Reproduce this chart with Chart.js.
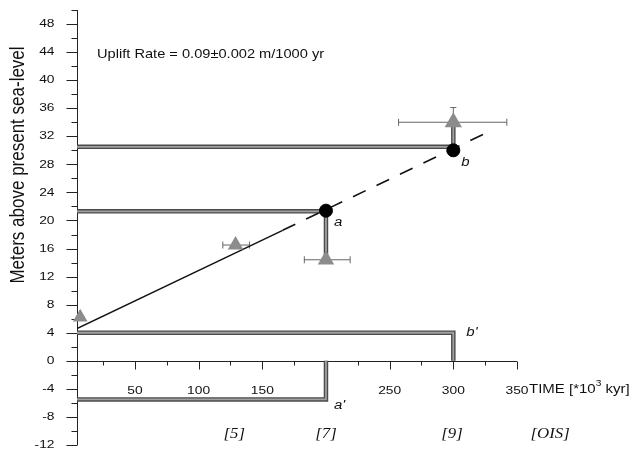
<!DOCTYPE html>
<html>
<head>
<meta charset="utf-8">
<script src="https://cdn.jsdelivr.net/npm/chart.js@4.4.1/dist/chart.umd.min.js"></script>
<style>
  body { margin: 0; background: #fff; }
  #c { display: block; }
</style>
</head>
<body>
<canvas id="c" width="636" height="455"></canvas>
<script>
// terraces a and b (black dots) and their shoreline / paleo sea-level steps
const terraceNames = ['a', 'b'];
const terraceAge = [200, 300];
const terraceElev = [21.4, 30];
const shorelineElev = [21.3, 30.5];
const shorelineTop = [14.4, 34];      // where the vertical step ends
const paleoNames = ["a'", "b'"];
const paleoElev = [-5.5, 4.0];

// dated samples (grey triangles) with error bars
const sampleAge = [7, 129, 200, 300];
const sampleElev = [6.2, 16.5, 14.4, 34];
const sampleAgeLo = [null, 119, 183, 257];
const sampleAgeHi = [null, 140, 219, 342];
const sampleElevHi = [null, null, null, 36.1];

// uplift regression line (solid part then dashed part)
const fitAge = [4.5, 166, 325];
const fitElev = [4.6, 18.6, 32.4];

// tick labels
const xTickLabels = [50, 100, 150, 250, 300, 350];
const yTickLabels = [-12, -8, -4, 0, 4, 8, 12, 16, 20, 24, 28, 32, 36, 40, 44, 48];
const stageLabels = ['[5]', '[7]', '[9]', '[OIS]'];
const stageAge = [128, 200, 299, 376];

const X_MIN = 4.5;
const FONT = '"Liberation Sans", Arial, sans-serif';
const SX = 1.2; // the scan is a bit wider than tall

const datasets = [];

// grey double-edged bands
function band(points) {
  datasets.push({ data: points, showLine: true, borderColor: '#4a4a4a', borderWidth: 4.5, pointRadius: 0, order: 10 });
  datasets.push({ data: points, showLine: true, borderColor: '#a0a0a0', borderWidth: 1.8, pointRadius: 0, order: 9 });
}
for (let i = 0; i < terraceAge.length; i++) {
  band([{ x: X_MIN, y: shorelineElev[i] }, { x: terraceAge[i], y: shorelineElev[i] }, { x: terraceAge[i], y: shorelineTop[i] }]);
  band([{ x: X_MIN, y: paleoElev[i] }, { x: terraceAge[i], y: paleoElev[i] }, { x: terraceAge[i], y: 0 }]);
}

// error bars
for (let i = 0; i < sampleAge.length; i++) {
  if (sampleAgeLo[i] !== null) {
    datasets.push({
      data: [{ x: sampleAgeLo[i], y: sampleElev[i] }, { x: sampleAgeHi[i], y: sampleElev[i] }],
      showLine: true, borderColor: '#666', borderWidth: 1,
      pointStyle: 'line', rotation: 90, pointRadius: 3.5, pointBorderWidth: 1, pointBorderColor: '#666', order: 6
    });
  }
  if (sampleElevHi[i] !== null) {
    datasets.push({
      data: [{ x: sampleAge[i], y: sampleElev[i] }, { x: sampleAge[i], y: sampleElevHi[i] }],
      showLine: true, borderColor: '#666', borderWidth: 1,
      pointStyle: 'line', pointRadius: [0, 3], pointBorderWidth: 1, pointBorderColor: '#666', order: 6
    });
  }
}

// regression line
datasets.push({
  data: [{ x: fitAge[0], y: fitElev[0] }, { x: fitAge[1], y: fitElev[1] }],
  showLine: true, borderColor: '#111', borderWidth: 1.4, pointRadius: 0, order: 5
});
datasets.push({
  data: [{ x: fitAge[1], y: fitElev[1] }, { x: fitAge[2], y: fitElev[2] }],
  showLine: true, borderColor: '#111', borderWidth: 1.6, borderDash: [14, 12], pointRadius: 0, order: 5
});

// samples
datasets.push({
  data: sampleAge.map((a, i) => ({ x: a, y: sampleElev[i] })),
  pointStyle: 'triangle', pointRadius: [8.5, 9, 9.5, 10], pointBackgroundColor: '#8c8c8c',
  pointBorderColor: '#8c8c8c', pointBorderWidth: 0, clip: false, order: 2
});

// terraces
datasets.push({
  data: terraceAge.map((a, i) => ({ x: a, y: terraceElev[i] })),
  pointStyle: 'circle', pointRadius: 6.5, pointBackgroundColor: '#000', pointBorderColor: '#000', clip: false, order: 1
});

// text stretched horizontally like the scanned figure
function wideText(ctx, str, x, y, font, align) {
  ctx.save();
  ctx.font = font;
  ctx.textAlign = align;
  ctx.translate(x, y);
  ctx.scale(SX, 1);
  ctx.fillText(str, 0, 0);
  const w = ctx.measureText(str).width * SX;
  ctx.restore();
  return w;
}

const axesPlugin = {
  id: 'axes',
  beforeDatasetsDraw(chart) {
    const { ctx, chartArea: a, scales: { x, y } } = chart;
    const y0 = Math.round(y.getPixelForValue(0)) + 0.5;
    const xl = Math.round(a.left) + 0.5;
    ctx.save();
    ctx.strokeStyle = '#222';
    ctx.lineWidth = 1;
    ctx.beginPath();
    ctx.moveTo(xl, a.top); ctx.lineTo(xl, a.bottom);
    ctx.moveTo(xl, y0); ctx.lineTo(x.getPixelForValue(350), y0);
    for (let v = -12; v <= 50; v += 2) {
      const py = Math.round(y.getPixelForValue(v)) + 0.5;
      ctx.moveTo(xl - (v % 4 === 0 ? 11 : 6), py); ctx.lineTo(xl, py);
    }
    for (let v = 25; v <= 350; v += 25) {
      const px = Math.round(x.getPixelForValue(v)) + 0.5;
      ctx.moveTo(px, y0); ctx.lineTo(px, y0 + (v % 50 === 0 ? 8 : 4));
    }
    ctx.stroke();

    ctx.fillStyle = '#111';
    ctx.textBaseline = 'middle';
    const f = '11.5px ' + FONT;
    yTickLabels.forEach(v => wideText(ctx, String(v), xl - 23, y.getPixelForValue(v), f, 'right'));
    xTickLabels.forEach(v => wideText(ctx, String(v), x.getPixelForValue(v), y0 + 29, f, 'center'));
    ctx.restore();
  },
  afterDraw(chart) {
    const { ctx, chartArea: a, scales: { x, y } } = chart;
    const y0 = y.getPixelForValue(0);
    ctx.save();
    ctx.fillStyle = '#111';
    ctx.textBaseline = 'middle';

    // axis title
    ctx.save();
    ctx.translate(18, 165);
    ctx.rotate(-Math.PI / 2);
    ctx.scale(1, SX);
    ctx.textAlign = 'center';
    ctx.font = '17px ' + FONT;
    ctx.fillText('Meters above present sea-level', 0, 0);
    ctx.restore();

    // time label after 350
    const f = '12.5px ' + FONT;
    let tx = x.getPixelForValue(350) + 12;
    const ty = y0 + 29;
    tx += wideText(ctx, 'TIME [*10', tx, ty, f, 'left');
    tx += wideText(ctx, '3', tx, ty - 6, '8.5px ' + FONT, 'left');
    wideText(ctx, ' kyr]', tx, ty, f, 'left');

    // uplift rate
    wideText(ctx, 'Uplift Rate = 0.09\u00b10.002 m/1000 yr', a.left + 20, 55, '12.2px ' + FONT, 'left');

    // point labels
    const fi = 'italic 12.5px ' + FONT;
    terraceNames.forEach((n, i) => {
      wideText(ctx, n, x.getPixelForValue(terraceAge[i]) + 8, y.getPixelForValue(terraceElev[i]) + 12, fi, 'left');
    });
    wideText(ctx, paleoNames[0], x.getPixelForValue(terraceAge[0]) + 8, y.getPixelForValue(paleoElev[0]) + 6, fi, 'left');
    wideText(ctx, paleoNames[1], x.getPixelForValue(terraceAge[1]) + 13, y.getPixelForValue(paleoElev[1]), fi, 'left');

    // isotope stages
    const fs = 'italic 14px "Liberation Serif", "Times New Roman", serif';
    stageLabels.forEach((s, i) => wideText(ctx, s, x.getPixelForValue(stageAge[i]), 434, fs, 'center'));
    ctx.restore();
  }
};

new Chart(document.getElementById('c').getContext('2d'), {
  type: 'scatter',
  data: { datasets: datasets },
  options: {
    responsive: false,
    animation: false,
    devicePixelRatio: 1,
    layout: { padding: { left: 77, right: 119, top: 9, bottom: 9 } },
    scales: {
      x: { type: 'linear', min: X_MIN, max: 350, display: false },
      y: { type: 'linear', min: -12, max: 50, display: false }
    },
    plugins: { legend: { display: false }, tooltip: { enabled: false } }
  },
  plugins: [axesPlugin]
});
</script>
</body>
</html>
